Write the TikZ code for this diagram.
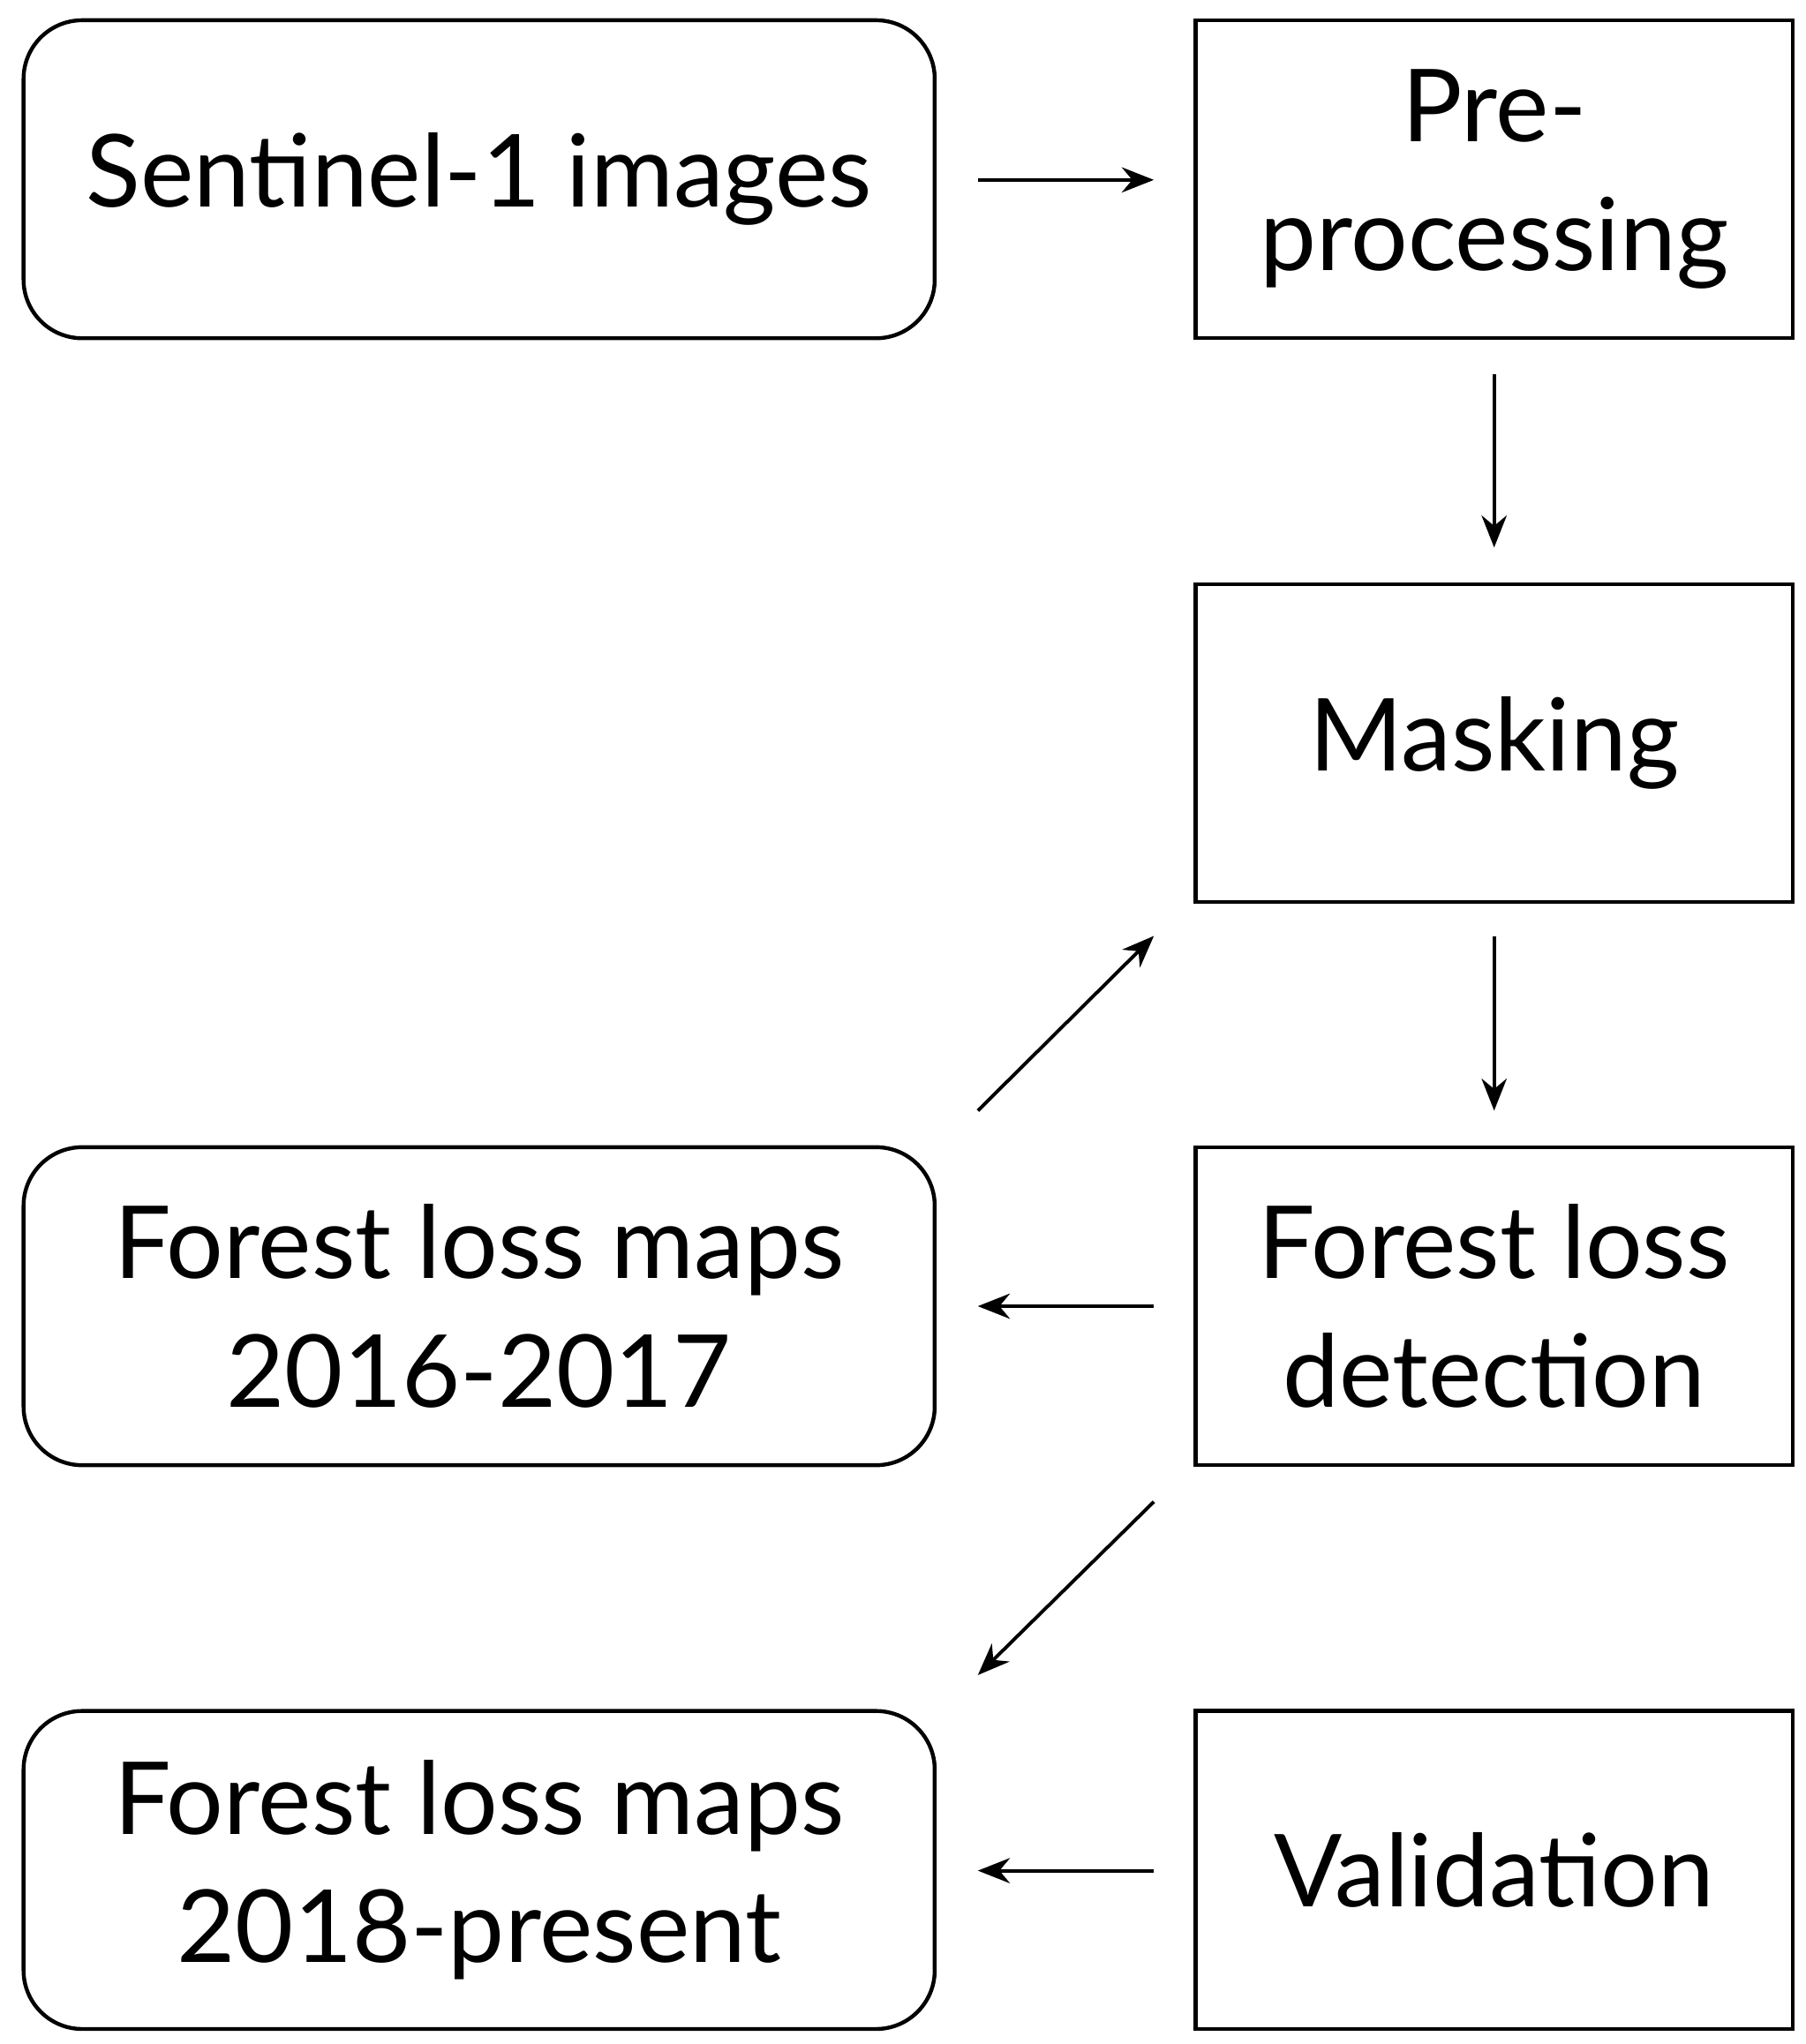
\documentclass[tikz,border=0pt]{standalone}
\usepackage{fontspec}
\setmainfont{Lato}
\usetikzlibrary{arrows.meta}
\begin{document}
\begin{tikzpicture}[x=0.02cm,y=-0.02cm,
  box/.style={draw,line width=1.7pt,inner sep=0pt,align=center,font=\fontsize{44}{56}\selectfont,minimum width=9.16cm,minimum height=4.88cm},
  rbox/.style={box,rounded corners=0.9cm,minimum width=13.98cm},
  arr/.style={line width=1.5pt,-{Stealth[length=14pt,width=11pt]}}]
\useasboundingbox (0,0) rectangle (1385,1568);
\node[rbox] (sen) at (367.5,137.5) {Sentinel-1 images};
\node[box] (pre) at (1146,137.5) {Pre-\\processing};
\node[box] (mask) at (1146,570) {Masking};
\node[box] (det) at (1146,1002) {Forest loss\\detection};
\node[rbox] (m16) at (367.5,1002) {Forest loss maps\\2016-2017};
\node[box] (val) at (1146,1434.5) {Validation};
\node[rbox] (m18) at (367.5,1434.5) {Forest loss maps\\2018-present};
\coordinate (a1) at (750,138); \coordinate (a2) at (885,138);
\coordinate (b1) at (1146,287); \coordinate (b2) at (1146,420);
\coordinate (c1) at (1146,718); \coordinate (c2) at (1146,852);
\coordinate (d1) at (885,1002); \coordinate (d2) at (750,1002);
\coordinate (e1) at (750,852); \coordinate (e2) at (885,718);
\coordinate (f1) at (885,1152); \coordinate (f2) at (750,1285);
\coordinate (g1) at (885,1435); \coordinate (g2) at (750,1435);
\draw[arr] (a1) -- (a2);
\draw[arr] (b1) -- (b2);
\draw[arr] (c1) -- (c2);
\draw[arr] (d1) -- (d2);
\draw[arr] (e1) -- (e2);
\draw[arr] (f1) -- (f2);
\draw[arr] (g1) -- (g2);
\end{tikzpicture}
\end{document}
